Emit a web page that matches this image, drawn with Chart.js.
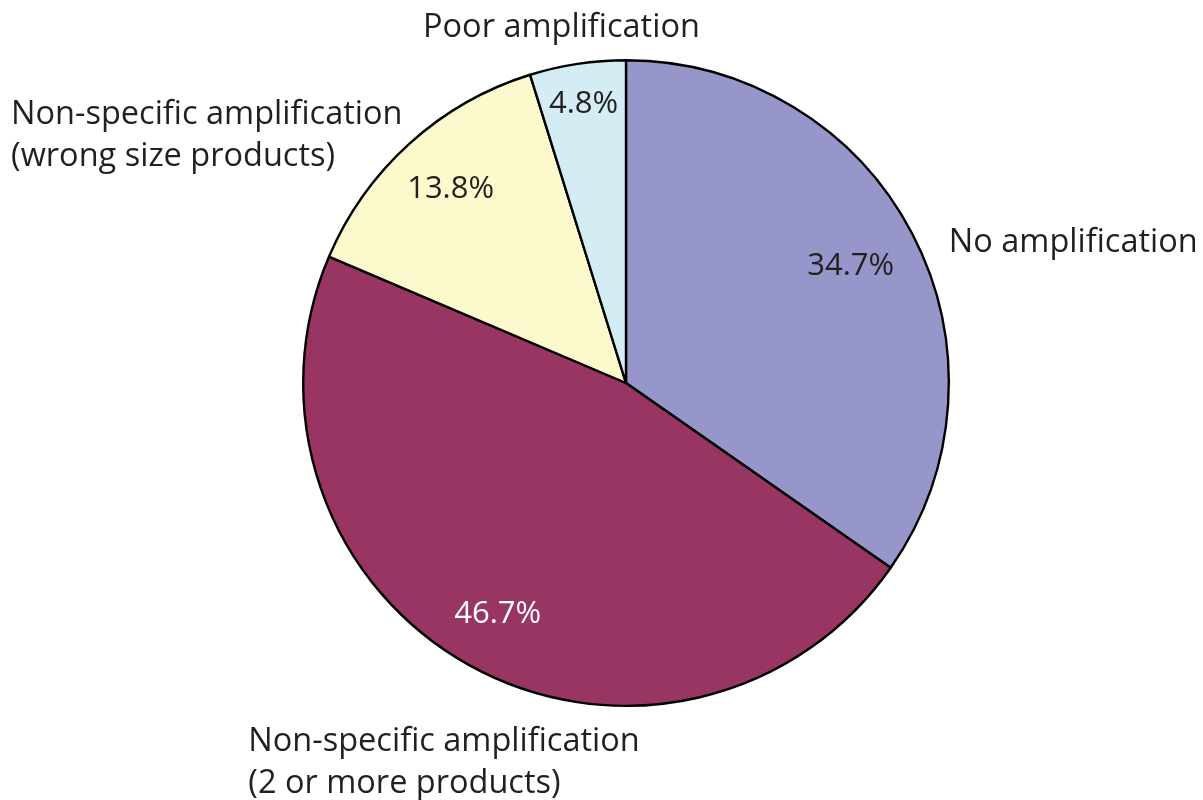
<!DOCTYPE html>
<html>
<head>
<meta charset="utf-8">
<script src="https://cdn.jsdelivr.net/npm/chart.js@4.4.1/dist/chart.umd.min.js"></script>
<style>
  html, body { margin: 0; padding: 0; background: #fff; }
  #w { width: 1203px; height: 800px; }
</style>
</head>
<body>
<div id="w"><canvas id="myChart"></canvas></div>
<script>
// data
var categorias = ['No amplification', 'Non-specific amplification (2 or more products)', 'Non-specific amplification (wrong size products)', 'Poor amplification'];
var porcentajes = [34.7, 46.7, 13.8, 4.8];
var colores = ['#9696ca', '#983562', '#fcf9cd', '#d4ecf4'];

var FUENTE = '"Open Sans", "Noto Sans", sans-serif';
var TEXTO = '#231f20';

// where each % label sits, as a fraction of the radius along the slice middle
var radioPct = [0.785, 0.82, 0.81, 0.875];
var colorPct = [TEXTO, '#ffffff', TEXTO, TEXTO];

// outer labels: lines, anchor relative to centre in radius units, alignment
var etiquetas = [
    { lineas: ['No amplification'], dx: 1.0, dy: -0.435, align: 'left' },
    { lineas: ['Non-specific amplification', '(2 or more products)'], dx: -1.17, dy: 1.11, align: 'left' },
    { lineas: ['Non-specific amplification', '(wrong size products)'], dx: -1.905, dy: -0.83, align: 'left' },
    { lineas: ['Poor amplification'], dx: -0.2, dy: -1.1, align: 'center' }
];

var pluginTextos = {
    id: 'textos',
    afterDraw: function (chart) {
        var ctx = chart.ctx;
        var arcs = chart.getDatasetMeta(0).data;
        ctx.save();
        ctx.textBaseline = 'middle';
        arcs.forEach(function (arc, i) {
            var p = arc.getProps(['x', 'y', 'startAngle', 'endAngle', 'outerRadius'], true);
            var mid = (p.startAngle + p.endAngle) / 2;
            var r = p.outerRadius * radioPct[i];
            ctx.font = '31px ' + FUENTE;
            ctx.fillStyle = colorPct[i];
            ctx.textAlign = 'center';
            ctx.fillText(porcentajes[i] + '%', p.x + Math.cos(mid) * r, p.y + Math.sin(mid) * r);

            var et = etiquetas[i];
            ctx.font = '32.5px ' + FUENTE;
            ctx.fillStyle = TEXTO;
            ctx.textAlign = et.align;
            var x = p.x + et.dx * p.outerRadius;
            var y = p.y + et.dy * p.outerRadius;
            et.lineas.forEach(function (l, k) {
                ctx.fillText(l, x, y + k * 42);
            });
        });
        ctx.restore();
    }
};

var ctx = document.getElementById('myChart').getContext('2d');
var myChart = new Chart(ctx, {
    type: 'pie',
    data: {
        labels: categorias,
        datasets: [{
            data: porcentajes,
            backgroundColor: colores,
            borderColor: '#000000',
            borderWidth: 2.4
        }]
    },
    options: {
        responsive: true,
        maintainAspectRatio: false,
        animation: false,
        layout: { padding: { left: 302, right: 253, top: 59, bottom: 93 } },
        plugins: {
            legend: { display: false },
            tooltip: { enabled: false }
        }
    },
    plugins: [pluginTextos]
});
</script>
</body>
</html>
